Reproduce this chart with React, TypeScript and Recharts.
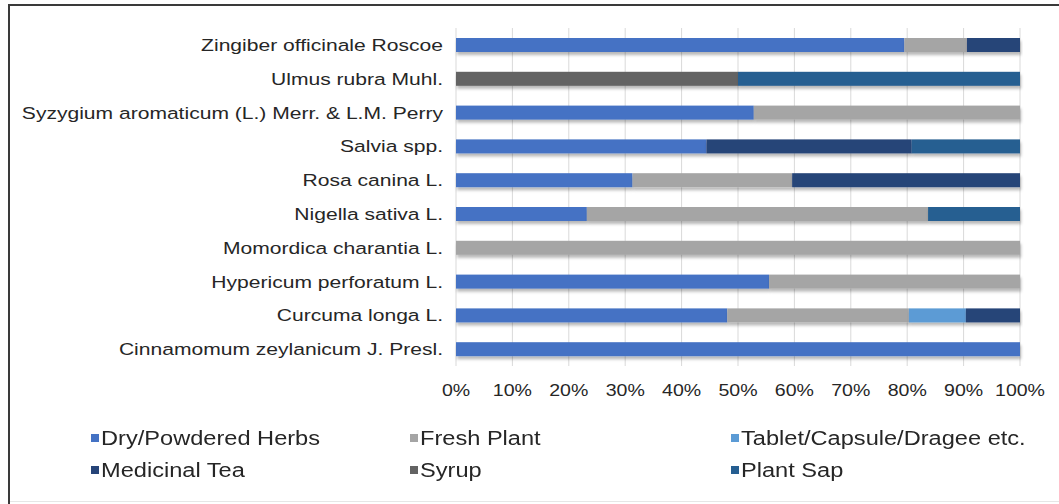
import React from "react";
import { BarChart, Bar, XAxis, YAxis, CartesianGrid } from "recharts";

const categories = [
  "Zingiber officinale Roscoe",
  "Ulmus rubra Muhl.",
  "Syzygium aromaticum (L.) Merr. & L.M. Perry",
  "Salvia spp.",
  "Rosa canina L.",
  "Nigella sativa L.",
  "Momordica charantia L.",
  "Hypericum perforatum L.",
  "Curcuma longa L.",
  "Cinnamomum zeylanicum J. Presl.",
];

const dryPowdered = [79.5, 0, 52.8, 44.4, 31.3, 23.2, 0, 55.5, 48.1, 100];
const freshPlant = [11.1, 0, 47.2, 0, 28.3, 60.5, 100, 44.5, 32.2, 0];
const tabletCapsule = [0, 0, 0, 0, 0, 0, 0, 0, 10.1, 0];
const medicinalTea = [9.4, 0, 0, 36.4, 40.4, 0, 0, 0, 9.6, 0];
const syrup = [0, 50, 0, 0, 0, 0, 0, 0, 0, 0];
const plantSap = [0, 50, 0, 19.2, 0, 16.3, 0, 0, 0, 0];

const xTicks = [0, 10, 20, 30, 40, 50, 60, 70, 80, 90, 100];

const series = [
  { key: "dry", name: "Dry/Powdered Herbs", values: dryPowdered, color: "#4472C4" },
  { key: "fresh", name: "Fresh Plant", values: freshPlant, color: "#A5A5A5" },
  { key: "tablet", name: "Tablet/Capsule/Dragee etc.", values: tabletCapsule, color: "#5B9BD5" },
  { key: "tea", name: "Medicinal Tea", values: medicinalTea, color: "#264478" },
  { key: "syrup", name: "Syrup", values: syrup, color: "#636363" },
  { key: "sap", name: "Plant Sap", values: plantSap, color: "#255E91" },
];

const data = categories.map((c, i) => {
  const row: Record<string, string | number> = { name: c };
  series.forEach((s) => {
    row[s.key] = s.values[i];
  });
  return row;
});

const FONT = "'Liberation Sans', Arial, sans-serif";
const TEXT = "#262626";

const legendOrder = [
  ["dry", "fresh", "tablet"],
  ["tea", "syrup", "sap"],
];
const legendColX = [91, 410, 731];
const legendRowY = [438, 470];

const YTick = (props: any) => {
  const { x, y, payload } = props;
  return (
    <g transform={`translate(${x},${y})`}>
      <text
        transform="scale(1.24,1)"
        textAnchor="end"
        dy="0.355em"
        fill={TEXT}
        fontSize={17}
        fontFamily={FONT}
      >
        {payload.value}
      </text>
    </g>
  );
};

const XTick = (props: any) => {
  const { x, y, payload } = props;
  return (
    <g transform={`translate(${x},${y})`}>
      <text
        transform="scale(1.15,1)"
        textAnchor="middle"
        dy="0.71em"
        fill={TEXT}
        fontSize={17}
        fontFamily={FONT}
      >
        {`${payload.value}%`}
      </text>
    </g>
  );
};

const ShadowBar = (props: any) => {
  const { x, y, width, height, fill } = props;
  if (!width || width <= 0) return <g />;
  return <rect x={x} y={y} width={width} height={height} fill={fill} filter="url(#barShadow)" />;
};

export default function App() {
  return (
    <div
      style={{
        position: "absolute",
        left: 0,
        top: 0,
        width: 1059,
        height: 504,
        background: "#fff",
        fontFamily: FONT,
        overflow: "hidden",
      }}
    >
      <svg width={0} height={0} style={{ position: "absolute" }}>
        <defs>
          <filter id="barShadow" x="-5%" y="-50%" width="110%" height="220%">
            <feDropShadow dx="1" dy="3" stdDeviation="1.6" floodColor="#000" floodOpacity="0.28" />
          </filter>
        </defs>
      </svg>
      <div style={{ position: "absolute", left: 8, top: 4, right: 0, height: 2, background: "#3a3a3a" }} />
      <div style={{ position: "absolute", left: 8, top: 4, width: 2, bottom: 0, background: "#3a3a3a" }} />
      <div style={{ position: "absolute", left: 10, bottom: 2, right: 0, height: 1, background: "#e6e6e6" }} />
      <div style={{ position: "absolute", left: 0, top: 0 }}>
        <BarChart
          width={1059}
          height={504}
          data={data}
          layout="vertical"
          barSize={14}
          margin={{ top: 28, right: 39, bottom: 108, left: 0 }}
        >
          <CartesianGrid horizontal={false} stroke="#d9d9d9" />
          <XAxis
            type="number"
            domain={[0, 100]}
            ticks={xTicks}
            axisLine={false}
            tickLine={false}
            height={30}
            tick={<XTick />}
            tickMargin={12}
            interval={0}
          />
          <YAxis
            type="category"
            dataKey="name"
            width={456}
            axisLine={false}
            tickLine={false}
            tick={<YTick />}
            tickMargin={7}
            interval={0}
          />
          {series.map((s) => (
            <Bar
              key={s.key}
              dataKey={s.key}
              name={s.name}
              stackId="a"
              fill={s.color}
              isAnimationActive={false}
              shape={<ShadowBar />}
            />
          ))}
        </BarChart>
      </div>
      {legendOrder.map((row, ri) =>
        row.map((k, ci) => {
          const s = series.find((x) => x.key === k)!;
          return (
            <div
              key={k}
              style={{
                position: "absolute",
                left: legendColX[ci],
                top: legendRowY[ri] - 12,
                height: 24,
                display: "flex",
                alignItems: "center",
                fontSize: 20,
                color: TEXT,
                whiteSpace: "nowrap",
              }}
            >
              <span style={{ display: "inline-block", width: 8, height: 8, background: s.color, marginRight: 2 }} />
              <span style={{ display: "inline-block", transform: "scaleX(1.18)", transformOrigin: "left center" }}>
                {s.name}
              </span>
            </div>
          );
        })
      )}
    </div>
  );
}
